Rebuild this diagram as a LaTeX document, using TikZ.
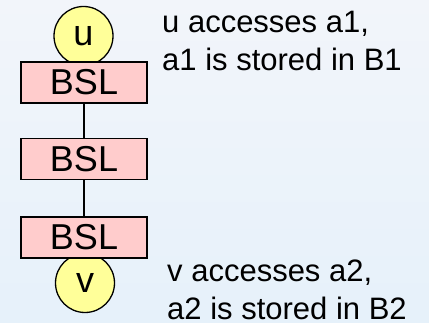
\documentclass[tikz,border=0pt]{standalone}
\usepackage{fontspec}
\setmainfont{Liberation Sans}
\definecolor{bgtop}{HTML}{F2F5FA}
\definecolor{bgbot}{HTML}{E6F1FA}
\definecolor{nodeyellow}{HTML}{FFFF99}
\definecolor{boxpink}{HTML}{FFCCCC}
\begin{document}
\begin{tikzpicture}[x=1pt,y=-1pt,
  vertex/.style={circle,draw=black,line width=1.3pt,fill=nodeyellow,
    minimum size=59pt,inner sep=0pt,font=\fontsize{36}{36}\selectfont},
  bslbox/.style={rectangle,draw=black,line width=1.3pt,fill=boxpink,
    minimum width=126pt,minimum height=41pt,inner sep=0pt,
    font=\fontsize{36}{36}\selectfont},
  link/.style={draw=black,line width=1.3pt},
  note/.style={align=left,inner sep=0pt,anchor=base west,
    font=\fontsize{31}{38}\selectfont}]
  \shade[top color=bgtop,bottom color=bgbot] (0,0) rectangle (429,323);
  \useasboundingbox (0,0) rectangle (429,323);
  % endpoints
  \node[vertex] (u) at (83.5,36) {u};
  \node[vertex] (v) at (85,283) {v};
  % chain of BSL boxes
  \node[bslbox] (b1) at (84,82.5) {BSL};
  \node[bslbox] (b2) at (84,159) {BSL};
  \node[bslbox] (b3) at (84,237.5) {BSL};
  \draw[link] (b1.south) -- (b2.north);
  \draw[link] (b2.south) -- (b3.north);
  % annotations (anchored at the baseline of their last line)
  \node[note] (nu) at (162,71) {u accesses a1,\\a1 is stored in B1};
  \node[note] (nv) at (167,320) {v accesses a2,\\a2 is stored in B2};
\end{tikzpicture}
\end{document}
